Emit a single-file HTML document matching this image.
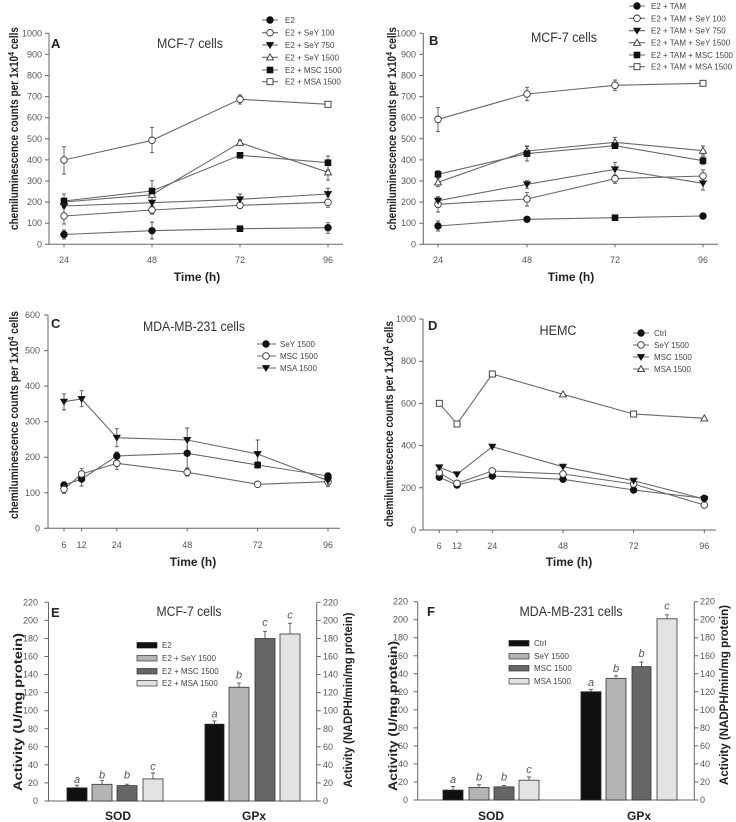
<!DOCTYPE html>
<html>
<head>
<meta charset="utf-8">
<style>
html,body{margin:0;padding:0;background:#fff;}
svg{display:block;}
text{font-family:"Liberation Sans",sans-serif;}
.tk{font-size:9px;fill:#555;}
.tkr{font-size:9px;fill:#555;text-anchor:end;}
.lg{font-size:8px;fill:#444;}
.ax{stroke:#666;stroke-width:1;fill:none;}
.ln{stroke:#6a6a6a;stroke-width:1.1;fill:none;}
.eb{stroke:#555;stroke-width:0.9;fill:none;}
.ttl{font-size:13.5px;fill:#333;text-anchor:middle;}
.pl{font-size:13px;font-weight:bold;fill:#222;}
.xt{font-size:12px;font-weight:bold;fill:#222;text-anchor:middle;}
.yl{font-size:11.5px;font-weight:bold;fill:#222;text-anchor:middle;}
.let{font-size:11px;font-style:italic;fill:#555;text-anchor:middle;}
.bl{font-size:11px;fill:#555;text-anchor:middle;}
</style>
</head>
<body>
<svg width="736" height="822" viewBox="0 0 736 822" xmlns="http://www.w3.org/2000/svg">
<defs>
<circle id="fc" cx="0" cy="0" r="3.3" fill="#111" stroke="#111" stroke-width="0.8"/>
<circle id="oc" cx="0" cy="0" r="3.3" fill="#fff" stroke="#333" stroke-width="0.9"/>
<path id="td" d="M-3.6,-2.6 L3.6,-2.6 L0,3.4 Z" fill="#111" stroke="#111" stroke-width="0.6"/>
<path id="tu" d="M-3.5,2.6 L3.5,2.6 L0,-3.4 Z" fill="#fff" stroke="#333" stroke-width="0.9"/>
<rect id="fs" x="-3" y="-3" width="6" height="6" fill="#111" stroke="#111" stroke-width="0.6"/>
<rect id="os" x="-3" y="-3" width="6" height="6" fill="#fff" stroke="#333" stroke-width="0.9"/>
</defs>

<!-- ================= PANEL A ================= -->
<g>
<path class="ax" d="M49,33.3 V244.3 H343"/>
<path class="ax" d="M45,244.3H49M45,223.2H49M45,202.1H49M45,181H49M45,159.9H49M45,138.8H49M45,117.7H49M45,96.6H49M45,75.5H49M45,54.4H49M45,33.3H49"/>
<path class="ax" d="M64,244.3v3M152,244.3v3M240,244.3v3M328,244.3v3"/>
<text class="tkr" x="42" y="247.3">0</text>
<text class="tkr" x="42" y="226.2">100</text>
<text class="tkr" x="42" y="205.1">200</text>
<text class="tkr" x="42" y="184">300</text>
<text class="tkr" x="42" y="162.9">400</text>
<text class="tkr" x="42" y="141.8">500</text>
<text class="tkr" x="42" y="120.7">600</text>
<text class="tkr" x="42" y="99.6">700</text>
<text class="tkr" x="42" y="78.5">800</text>
<text class="tkr" x="42" y="57.4">900</text>
<text class="tkr" x="42" y="36.3">1000</text>
<text class="tk" x="64" y="263" text-anchor="middle">24</text>
<text class="tk" x="152" y="263" text-anchor="middle">48</text>
<text class="tk" x="240" y="263" text-anchor="middle">72</text>
<text class="tk" x="328" y="263" text-anchor="middle">96</text>
<text class="xt" x="197" y="281">Time (h)</text>
<text class="yl" transform="translate(18,128.5) rotate(-90)" textLength="203" lengthAdjust="spacingAndGlyphs">chemiluminescence counts per 1x10<tspan font-size="8" dy="-4">4</tspan><tspan dy="4"> cells</tspan></text>
<text class="pl" x="51" y="48">A</text>
<text class="ttl" x="190" y="48" textLength="66" lengthAdjust="spacingAndGlyphs">MCF-7 cells</text>
<path class="eb" d="M64,230V239M62,230h4M62,239h4 M152,222V239M150,222h4M150,239h4 M240,226.5V231M238,226.5h4M238,231h4 M328,222.7V233.3M326,222.7h4M326,233.3h4"/>
<path class="eb" d="M64,208V224M62,208h4M62,224h4 M152,206V214M150,206h4M150,214h4 M328,196.7V207.3M326,196.7h4M326,207.3h4"/>
<path class="eb" d="M64,200V212M62,200h4 M152,199V206 M240,194V205M238,194h4M238,205h4 M328,188.3V199.3M326,188.3h4M326,199.3h4"/>
<path class="eb" d="M240,140V146M238,140h4 M328,164V180M326,164h4M326,180h4"/>
<path class="eb" d="M64,194V208M62,194h4M62,208h4 M152,180.7V201M150,180.7h4M150,201h4 M328,156V170M326,156h4M326,170h4"/>
<path class="eb" d="M64,146.7V174M62,146.7h4M62,174h4 M152,127.3V152.7M150,127.3h4M150,152.7h4 M240,95V104M238,95h4M238,104h4 M328,102V107M326,102h4M326,107h4"/>
<polyline class="ln" points="64,234.5 152,230.7 240,228.7 328,227.7"/>
<polyline class="ln" points="64,216 152,210 240,205.3 328,202.3"/>
<polyline class="ln" points="64,206 152,202.7 240,199.3 328,194"/>
<polyline class="ln" points="64,202 152,194.7 240,142.7 328,172.3"/>
<polyline class="ln" points="64,201 152,191 240,155.3 328,162.7"/>
<polyline class="ln" points="64,160 152,140.3 240,99.3 328,104.3"/>
<use href="#fc" x="64" y="234.5"/><use href="#fc" x="152" y="230.7"/><use href="#fs" x="240" y="228.7"/><use href="#fc" x="328" y="227.7"/>
<use href="#oc" x="64" y="216"/><use href="#oc" x="152" y="210"/><use href="#oc" x="240" y="205.3"/><use href="#oc" x="328" y="202.3"/>
<use href="#td" x="64" y="206"/><use href="#td" x="152" y="202.7"/><use href="#td" x="240" y="199.3"/><use href="#td" x="328" y="194"/>
<use href="#tu" x="64" y="202"/><use href="#tu" x="152" y="194.7"/><use href="#tu" x="240" y="142.7"/><use href="#tu" x="328" y="172.3"/>
<use href="#fs" x="64" y="201"/><use href="#fs" x="152" y="191"/><use href="#fs" x="240" y="155.3"/><use href="#fs" x="328" y="162.7"/>
<use href="#oc" x="64" y="160"/><use href="#oc" x="152" y="140.3"/><use href="#oc" x="240" y="99.3"/><use href="#os" x="328" y="104.3"/>
<path class="ln" d="M262,20H278M262,32.7H278M262,45H278M262,57.3H278M262,70H278M262,81.7H278"/>
<use href="#fc" x="270" y="20"/><use href="#oc" x="270" y="32.7"/><use href="#td" x="270" y="45"/><use href="#tu" x="270" y="57.3"/><use href="#fs" x="270" y="70"/><use href="#os" x="270" y="81.7"/>
<text class="lg" x="285" y="23">E2</text>
<text class="lg" x="285" y="35.7">E2 + SeY 100</text>
<text class="lg" x="285" y="48">E2 + SeY 750</text>
<text class="lg" x="285" y="60.3">E2 + SeY 1500</text>
<text class="lg" x="285" y="73">E2 + MSC 1500</text>
<text class="lg" x="285" y="84.7">E2 + MSA 1500</text>
</g>

<!-- ================= PANEL B ================= -->
<g>
<path class="ax" d="M423.3,33.3 V244.3 H718"/>
<path class="ax" d="M419.3,244.3H423.3M419.3,223.2H423.3M419.3,202.1H423.3M419.3,181H423.3M419.3,159.9H423.3M419.3,138.8H423.3M419.3,117.7H423.3M419.3,96.6H423.3M419.3,75.5H423.3M419.3,54.4H423.3M419.3,33.3H423.3"/>
<path class="ax" d="M438,244.3v3M527,244.3v3M615,244.3v3M703,244.3v3"/>
<text class="tkr" x="416" y="247.3">0</text>
<text class="tkr" x="416" y="226.2">100</text>
<text class="tkr" x="416" y="205.1">200</text>
<text class="tkr" x="416" y="184">300</text>
<text class="tkr" x="416" y="162.9">400</text>
<text class="tkr" x="416" y="141.8">500</text>
<text class="tkr" x="416" y="120.7">600</text>
<text class="tkr" x="416" y="99.6">700</text>
<text class="tkr" x="416" y="78.5">800</text>
<text class="tkr" x="416" y="57.4">900</text>
<text class="tkr" x="416" y="36.3">1000</text>
<text class="tk" x="438" y="263" text-anchor="middle">24</text>
<text class="tk" x="527" y="263" text-anchor="middle">48</text>
<text class="tk" x="615" y="263" text-anchor="middle">72</text>
<text class="tk" x="703" y="263" text-anchor="middle">96</text>
<text class="xt" x="571" y="281">Time (h)</text>
<text class="yl" transform="translate(396,128.5) rotate(-90)" textLength="203" lengthAdjust="spacingAndGlyphs">chemiluminescence counts per 1x10<tspan font-size="8" dy="-4">4</tspan><tspan dy="4"> cells</tspan></text>
<text class="pl" x="429" y="45">B</text>
<text class="ttl" x="564" y="42" textLength="66" lengthAdjust="spacingAndGlyphs">MCF-7 cells</text>
<path class="eb" d="M438,221V231M436,221h4M436,231h4 M703,213.3V219M701,213.3h4M701,219h4"/>
<path class="eb" d="M438,197V212M436,197h4M436,212h4 M527,192.7V206M525,192.7h4M525,206h4 M615,175V183.3M613,175h4M613,183.3h4 M703,170V182.3M701,170h4M701,182.3h4"/>
<path class="eb" d="M438,196.7V205M436,196.7h4M436,205h4 M527,180.7V188.3M525,180.7h4M525,188.3h4 M615,162.3V177M613,162.3h4 M703,177.3V190M701,177.3h4M701,190h4"/>
<path class="eb" d="M438,178.3V186.7M436,178.3h4M436,186.7h4 M527,146.7V156M525,146.7h4 M615,137.3V146.7M613,137.3h4M613,146.7h4 M703,146V155M701,146h4M701,155h4"/>
<path class="eb" d="M438,170.7V178.3M436,170.7h4M436,178.3h4 M527,146V161M525,146h4M525,161h4 M703,156.7V164.7M701,156.7h4M701,164.7h4"/>
<path class="eb" d="M438,107.7V131.7M436,107.7h4M436,131.7h4 M527,87.3V100.7M525,87.3h4M525,100.7h4 M615,80V90.7M613,80h4M613,90.7h4"/>
<polyline class="ln" points="438,226 527,219.3 615,217.7 703,216"/>
<polyline class="ln" points="438,204.3 527,199 615,178.7 703,176"/>
<polyline class="ln" points="438,200.7 527,184.3 615,169.3 703,183.3"/>
<polyline class="ln" points="438,182.3 527,151 615,142.3 703,150.7"/>
<polyline class="ln" points="438,174.3 527,153.6 615,145.7 703,160.7"/>
<polyline class="ln" points="438,119.3 527,94 615,85.3 703,83.3"/>
<use href="#fc" x="438" y="226"/><use href="#fc" x="527" y="219.3"/><use href="#fs" x="615" y="217.7"/><use href="#fc" x="703" y="216"/>
<use href="#oc" x="438" y="204.3"/><use href="#oc" x="527" y="199"/><use href="#oc" x="615" y="178.7"/><use href="#oc" x="703" y="176"/>
<use href="#td" x="438" y="200.7"/><use href="#td" x="527" y="184.3"/><use href="#td" x="615" y="169.3"/><use href="#td" x="703" y="183.3"/>
<use href="#tu" x="438" y="182.3"/><use href="#tu" x="527" y="151"/><use href="#tu" x="615" y="142.3"/><use href="#tu" x="703" y="150.7"/>
<use href="#fs" x="438" y="174.3"/><use href="#fs" x="527" y="153.6"/><use href="#fs" x="615" y="145.7"/><use href="#fs" x="703" y="160.7"/>
<use href="#oc" x="438" y="119.3"/><use href="#oc" x="527" y="94"/><use href="#oc" x="615" y="85.3"/><use href="#os" x="703" y="83.3"/>
<path class="ln" d="M629,6H645M629,18.3H645M629,30.7H645M629,42.7H645M629,55H645M629,66.7H645"/>
<use href="#fc" x="637" y="6"/><use href="#oc" x="637" y="18.3"/><use href="#td" x="637" y="30.7"/><use href="#tu" x="637" y="42.7"/><use href="#fs" x="637" y="55"/><use href="#os" x="637" y="66.7"/>
<text class="lg" x="651" y="9">E2 + TAM</text>
<text class="lg" x="651" y="21.3">E2 + TAM + SeY 100</text>
<text class="lg" x="651" y="33.7">E2 + TAM + SeY 750</text>
<text class="lg" x="651" y="45.7">E2 + TAM + SeY 1500</text>
<text class="lg" x="651" y="58">E2 + TAM + MSC 1500</text>
<text class="lg" x="651" y="69.7">E2 + TAM + MSA 1500</text>
</g>

<!-- ================= PANEL C ================= -->
<g>
<path class="ax" d="M48,315 V528.3 H340"/>
<path class="ax" d="M44,528.3H48M44,492.8H48M44,457.2H48M44,421.7H48M44,386.1H48M44,350.6H48M44,315H48"/>
<path class="ax" d="M64,528.3v3M81.6,528.3v3M116.8,528.3v3M187.2,528.3v3M257.6,528.3v3M328,528.3v3"/>
<text class="tkr" x="40" y="531.3">0</text>
<text class="tkr" x="40" y="495.8">100</text>
<text class="tkr" x="40" y="460.2">200</text>
<text class="tkr" x="40" y="424.7">300</text>
<text class="tkr" x="40" y="389.1">400</text>
<text class="tkr" x="40" y="353.6">500</text>
<text class="tkr" x="40" y="318">600</text>
<text class="tk" x="64" y="548" text-anchor="middle">6</text>
<text class="tk" x="81.6" y="548" text-anchor="middle" font-size="8">12</text>
<text class="tk" x="116.8" y="548" text-anchor="middle">24</text>
<text class="tk" x="187.2" y="548" text-anchor="middle">48</text>
<text class="tk" x="257.6" y="548" text-anchor="middle">72</text>
<text class="tk" x="328" y="548" text-anchor="middle">96</text>
<text class="xt" x="193" y="566">Time (h)</text>
<text class="yl" transform="translate(18,415) rotate(-90)" textLength="208" lengthAdjust="spacingAndGlyphs">chemiluminescence counts per 1x10<tspan font-size="8" dy="-4">4</tspan><tspan dy="4"> cells</tspan></text>
<text class="pl" x="51" y="328">C</text>
<text class="ttl" x="194" y="331" textLength="102" lengthAdjust="spacingAndGlyphs">MDA-MB-231 cells</text>
<path class="eb" d="M64,482V488M62,482h4 M81.6,472V486M79.6,472h4M79.6,486h4 M116.8,452V460M114.8,452h4 M187.2,445V468M185.2,468h4 M257.6,462V468M255.6,462h4M255.6,468h4 M328,473V479M326,473h4"/>
<path class="eb" d="M64,485V493.3M62,493.3h4 M81.6,468.3V479M79.6,468.3h4 M116.8,458.3V469.3M114.8,458.3h4M114.8,469.3h4 M187.2,468.3V476M185.2,468.3h4M185.2,476h4 M328,478.3V486.7M326,486.7h4"/>
<path class="eb" d="M64,394V410M62,394h4M62,410h4 M81.6,390.7V406.7M79.6,390.7h4M79.6,406.7h4 M116.8,428.7V446.7M114.8,428.7h4M114.8,446.7h4 M187.2,428V451.7M185.2,428h4M185.2,451.7h4 M257.6,440V468.3M255.6,440h4 M328,476.7V485M326,476.7h4M326,485h4"/>
<polyline class="ln" points="64,485 81.6,479 116.8,456 187.2,453.3 257.6,465 328,476"/>
<polyline class="ln" points="64,489.3 81.6,474 116.8,463.3 187.2,472.3 257.6,484.3 328,481.7"/>
<polyline class="ln" points="64,401.7 81.6,399 116.8,437.7 187.2,440 257.6,454 328,480.7"/>
<use href="#fc" x="64" y="485"/><use href="#fc" x="81.6" y="479"/><use href="#fc" x="116.8" y="456"/><use href="#fc" x="187.2" y="453.3"/><use href="#fs" x="257.6" y="465"/><use href="#fc" x="328" y="476"/>
<use href="#oc" x="64" y="489.3"/><use href="#oc" x="81.6" y="474"/><use href="#oc" x="116.8" y="463.3"/><use href="#oc" x="187.2" y="472.3"/><use href="#oc" x="257.6" y="484.3"/><use href="#oc" x="328" y="481.7"/>
<use href="#td" x="64" y="401.7"/><use href="#td" x="81.6" y="399"/><use href="#td" x="116.8" y="437.7"/><use href="#td" x="187.2" y="440"/><use href="#td" x="257.6" y="454"/><use href="#td" x="328" y="480.7"/>
<path class="ln" d="M257,344H276M257,356H276M257,368H276"/>
<use href="#fc" x="266" y="344"/><use href="#oc" x="266" y="356"/><use href="#td" x="266" y="368"/>
<text class="lg" x="280" y="347">SeY 1500</text>
<text class="lg" x="280" y="359">MSC 1500</text>
<text class="lg" x="280" y="371">MSA 1500</text>
</g>

<!-- ================= PANEL D ================= -->
<g>
<path class="ax" d="M423,319 V530 H716"/>
<path class="ax" d="M419,530H423M419,487.8H423M419,445.6H423M419,403.4H423M419,361.2H423M419,319H423"/>
<path class="ax" d="M439.3,530v3M457,530v3M492.3,530v3M563,530v3M633.6,530v3M704.3,530v3"/>
<text class="tkr" x="416" y="533">0</text>
<text class="tkr" x="416" y="490.8">200</text>
<text class="tkr" x="416" y="448.6">400</text>
<text class="tkr" x="416" y="406.4">600</text>
<text class="tkr" x="416" y="364.2">800</text>
<text class="tkr" x="416" y="322">1000</text>
<text class="tk" x="439.3" y="549" text-anchor="middle">6</text>
<text class="tk" x="457" y="549" text-anchor="middle" font-size="8">12</text>
<text class="tk" x="492.3" y="549" text-anchor="middle">24</text>
<text class="tk" x="563" y="549" text-anchor="middle">48</text>
<text class="tk" x="633.6" y="549" text-anchor="middle">72</text>
<text class="tk" x="704.3" y="549" text-anchor="middle">96</text>
<text class="xt" x="569" y="566">Time (h)</text>
<text class="yl" transform="translate(393,424) rotate(-90)" textLength="206" lengthAdjust="spacingAndGlyphs">chemiluminescence counts per 1x10<tspan font-size="8" dy="-4">4</tspan><tspan dy="4"> cells</tspan></text>
<text class="pl" x="428" y="330">D</text>
<text class="ttl" x="558" y="335" textLength="37" lengthAdjust="spacingAndGlyphs">HEMC</text>
<polyline class="ln" points="439.3,477.3 457,485 492.3,476 563,479.3 633.6,490 704.3,498.3"/>
<polyline class="ln" points="439.3,472.7 457,483.3 492.3,471 563,474 633.6,484 704.3,505"/>
<polyline class="ln" points="439.3,467.3 457,474.3 492.3,446.7 563,466.7 633.6,480.7 704.3,499"/>
<polyline class="ln" points="439.3,403.3 457,424 492.3,374 563,394.3 633.6,414 704.3,418.3"/>
<use href="#fc" x="439.3" y="477.3"/><use href="#fc" x="457" y="485"/><use href="#fc" x="492.3" y="476"/><use href="#fc" x="563" y="479.3"/><use href="#fc" x="633.6" y="490"/><use href="#fc" x="704.3" y="498.3"/>
<use href="#oc" x="439.3" y="472.7"/><use href="#oc" x="457" y="483.3"/><use href="#oc" x="492.3" y="471"/><use href="#oc" x="563" y="474"/><use href="#oc" x="633.6" y="484"/><use href="#oc" x="704.3" y="505"/>
<use href="#td" x="439.3" y="467.3"/><use href="#td" x="457" y="474.3"/><use href="#td" x="492.3" y="446.7"/><use href="#td" x="563" y="466.7"/><use href="#td" x="633.6" y="480.7"/><use href="#td" x="704.3" y="499"/>
<use href="#os" x="439.3" y="403.3"/><use href="#os" x="457" y="424"/><use href="#os" x="492.3" y="374"/><use href="#tu" x="563" y="394.3"/><use href="#os" x="633.6" y="414"/><use href="#tu" x="704.3" y="418.3"/>
<path class="ln" d="M633,333H649M633,345H649M633,357H649M633,369H649"/>
<use href="#fc" x="641" y="333"/><use href="#oc" x="641" y="345"/><use href="#td" x="641" y="357"/><use href="#tu" x="641" y="369"/>
<text class="lg" x="654" y="336">Ctrl</text>
<text class="lg" x="654" y="348">SeY 1500</text>
<text class="lg" x="654" y="360">MSC 1500</text>
<text class="lg" x="654" y="372">MSA 1500</text>
</g>

<!-- ================= PANEL E ================= -->
<g>
<path class="ax" d="M48.5,602.3 V801 H316.7 V602.3"/>
<path class="ax" d="M44.5,801H48.5M44.5,782.9H48.5M44.5,764.9H48.5M44.5,746.8H48.5M44.5,728.8H48.5M44.5,710.7H48.5M44.5,692.6H48.5M44.5,674.6H48.5M44.5,656.5H48.5M44.5,638.5H48.5M44.5,620.4H48.5M44.5,602.3H48.5"/>
<path class="ax" d="M316.7,801h4M316.7,782.9h4M316.7,764.9h4M316.7,746.8h4M316.7,728.8h4M316.7,710.7h4M316.7,692.6h4M316.7,674.6h4M316.7,656.5h4M316.7,638.5h4M316.7,620.4h4M316.7,602.3h4"/>
<text class="tkr" x="38" y="804">0</text>
<text class="tkr" x="38" y="785.9">20</text>
<text class="tkr" x="38" y="767.9">40</text>
<text class="tkr" x="38" y="749.8">60</text>
<text class="tkr" x="38" y="731.8">80</text>
<text class="tkr" x="38" y="713.7">100</text>
<text class="tkr" x="38" y="695.6">120</text>
<text class="tkr" x="38" y="677.6">140</text>
<text class="tkr" x="38" y="659.5">160</text>
<text class="tkr" x="38" y="641.5">180</text>
<text class="tkr" x="38" y="623.4">200</text>
<text class="tkr" x="38" y="605.3">220</text>
<text class="tk" x="323" y="804">0</text>
<text class="tk" x="323" y="785.9">20</text>
<text class="tk" x="323" y="767.9">40</text>
<text class="tk" x="323" y="749.8">60</text>
<text class="tk" x="323" y="731.8">80</text>
<text class="tk" x="323" y="713.7">100</text>
<text class="tk" x="323" y="695.6">120</text>
<text class="tk" x="323" y="677.6">140</text>
<text class="tk" x="323" y="659.5">160</text>
<text class="tk" x="323" y="641.5">180</text>
<text class="tk" x="323" y="623.4">200</text>
<text class="tk" x="323" y="605.3">220</text>
<text class="yl" transform="translate(22,712) rotate(-90)" font-size="12" textLength="158" lengthAdjust="spacingAndGlyphs">Activity (U/mg protein)</text>
<text class="yl" transform="translate(352,700) rotate(-90)" font-size="12" textLength="175" lengthAdjust="spacingAndGlyphs">Activity (NADPH/min/mg protein)</text>
<text class="pl" x="51" y="617">E</text>
<text class="ttl" x="189" y="616" textLength="65" lengthAdjust="spacingAndGlyphs">MCF-7 cells</text>
<path class="eb" d="M77,787.9V785.2M75,785.2h4 M102,784.3V780.7M100,780.7h4 M127,785.6V784.2M125,784.2h4 M153,778.9V773M151,773h4"/>
<path class="eb" d="M214.5,724.2V721M212.5,721h4 M239,687.2V683.1M237,683.1h4 M265,638.5V631.3M263,631.3h4 M290,634V623.2M288,623.2h4"/>
<rect x="67" y="787.9" width="20" height="13.1" fill="#111" stroke="#222" stroke-width="0.8"/>
<rect x="92" y="784.3" width="20" height="16.7" fill="#b4b4b4" stroke="#333" stroke-width="0.8"/>
<rect x="117" y="785.6" width="20" height="15.4" fill="#666" stroke="#333" stroke-width="0.8"/>
<rect x="143" y="778.9" width="20" height="22.1" fill="#e3e3e3" stroke="#333" stroke-width="0.8"/>
<rect x="205" y="724.2" width="19" height="76.8" fill="#111" stroke="#222" stroke-width="0.8"/>
<rect x="229" y="687.2" width="20" height="113.8" fill="#b4b4b4" stroke="#333" stroke-width="0.8"/>
<rect x="255" y="638.5" width="20" height="162.5" fill="#666" stroke="#333" stroke-width="0.8"/>
<rect x="280" y="634" width="20" height="167" fill="#e3e3e3" stroke="#333" stroke-width="0.8"/>
<text class="let" x="77" y="783">a</text>
<text class="let" x="102" y="778.5">b</text>
<text class="let" x="127" y="778.5">b</text>
<text class="let" x="153" y="770">c</text>
<text class="let" x="214.5" y="717.5">a</text>
<text class="let" x="239" y="678.5">b</text>
<text class="let" x="265" y="626">c</text>
<text class="let" x="290" y="618.5">c</text>
<text class="xt" x="118" y="820">SOD</text>
<text class="xt" x="254" y="820">GPx</text>
<rect x="137" y="642.5" width="20" height="5.5" fill="#111" stroke="#222" stroke-width="0.7"/>
<rect x="137" y="655.5" width="20" height="5.5" fill="#b4b4b4" stroke="#333" stroke-width="0.7"/>
<rect x="137" y="668.5" width="20" height="5.5" fill="#666" stroke="#333" stroke-width="0.7"/>
<rect x="137" y="680.5" width="20" height="5.5" fill="#e3e3e3" stroke="#333" stroke-width="0.7"/>
<text class="lg" x="162" y="648" font-size="8.5">E2</text>
<text class="lg" x="162" y="661" font-size="8.5">E2 + SeY 1500</text>
<text class="lg" x="162" y="674" font-size="8.5">E2 + MSC 1500</text>
<text class="lg" x="162" y="686" font-size="8.5">E2 + MSA 1500</text>
</g>

<!-- ================= PANEL F ================= -->
<g>
<path class="ax" d="M417.7,601.7 V800 H694.3 V601.7"/>
<path class="ax" d="M413.7,800H417.7M413.7,782H417.7M413.7,763.9H417.7M413.7,745.9H417.7M413.7,727.9H417.7M413.7,709.9H417.7M413.7,691.8H417.7M413.7,673.8H417.7M413.7,655.8H417.7M413.7,637.7H417.7M413.7,619.7H417.7M413.7,601.7H417.7"/>
<path class="ax" d="M694.3,800h4M694.3,782h4M694.3,763.9h4M694.3,745.9h4M694.3,727.9h4M694.3,709.9h4M694.3,691.8h4M694.3,673.8h4M694.3,655.8h4M694.3,637.7h4M694.3,619.7h4M694.3,601.7h4"/>
<text class="tkr" x="408" y="803">0</text>
<text class="tkr" x="408" y="785">20</text>
<text class="tkr" x="408" y="766.9">40</text>
<text class="tkr" x="408" y="748.9">60</text>
<text class="tkr" x="408" y="730.9">80</text>
<text class="tkr" x="408" y="712.9">100</text>
<text class="tkr" x="408" y="694.8">120</text>
<text class="tkr" x="408" y="676.8">140</text>
<text class="tkr" x="408" y="658.8">160</text>
<text class="tkr" x="408" y="640.7">180</text>
<text class="tkr" x="408" y="622.7">200</text>
<text class="tkr" x="408" y="604.7">220</text>
<text class="tk" x="700" y="803">0</text>
<text class="tk" x="700" y="785">20</text>
<text class="tk" x="700" y="766.9">40</text>
<text class="tk" x="700" y="748.9">60</text>
<text class="tk" x="700" y="730.9">80</text>
<text class="tk" x="700" y="712.9">100</text>
<text class="tk" x="700" y="694.8">120</text>
<text class="tk" x="700" y="676.8">140</text>
<text class="tk" x="700" y="658.8">160</text>
<text class="tk" x="700" y="640.7">180</text>
<text class="tk" x="700" y="622.7">200</text>
<text class="tk" x="700" y="604.7">220</text>
<text class="yl" transform="translate(397,716) rotate(-90)" font-size="12" textLength="150" lengthAdjust="spacingAndGlyphs">Activity (U/mg protein)</text>
<text class="yl" transform="translate(728,695) rotate(-90)" font-size="12" textLength="180" lengthAdjust="spacingAndGlyphs">Activity (NADPH/min/mg protein)</text>
<text class="pl" x="427" y="616">F</text>
<text class="ttl" x="571" y="616" textLength="103" lengthAdjust="spacingAndGlyphs">MDA-MB-231 cells</text>
<path class="eb" d="M453,790.1V786.5M451,786.5h4 M479,787.4V784.7M477,784.7h4 M504,786.9V785.5M502,785.5h4 M529,780.2V777M527,777h4"/>
<path class="eb" d="M591,691.8V689.3M589,689.3h4 M616,678.3V675.8M614,675.8h4 M641.5,666.6V662M639.5,662h4 M667,618.8V614.8M665,614.8h4"/>
<rect x="443" y="790.1" width="20" height="9.9" fill="#111" stroke="#222" stroke-width="0.8"/>
<rect x="469" y="787.4" width="20" height="12.6" fill="#b4b4b4" stroke="#333" stroke-width="0.8"/>
<rect x="494" y="786.9" width="20" height="13.1" fill="#666" stroke="#333" stroke-width="0.8"/>
<rect x="519" y="780.2" width="20" height="19.8" fill="#e3e3e3" stroke="#333" stroke-width="0.8"/>
<rect x="581" y="691.8" width="20" height="108.2" fill="#111" stroke="#222" stroke-width="0.8"/>
<rect x="606" y="678.3" width="20" height="121.7" fill="#b4b4b4" stroke="#333" stroke-width="0.8"/>
<rect x="632" y="666.6" width="19" height="133.4" fill="#666" stroke="#333" stroke-width="0.8"/>
<rect x="657" y="618.8" width="20" height="181.2" fill="#e3e3e3" stroke="#333" stroke-width="0.8"/>
<text class="let" x="453" y="783">a</text>
<text class="let" x="479" y="780.5">b</text>
<text class="let" x="504" y="780.5">b</text>
<text class="let" x="529" y="773">c</text>
<text class="let" x="591" y="686">a</text>
<text class="let" x="616" y="672">b</text>
<text class="let" x="641.5" y="657">b</text>
<text class="let" x="667" y="609.5">c</text>
<text class="xt" x="491" y="820">SOD</text>
<text class="xt" x="639" y="820">GPx</text>
<rect x="509" y="640.5" width="20" height="5.5" fill="#111" stroke="#222" stroke-width="0.7"/>
<rect x="509" y="653.5" width="20" height="5.5" fill="#b4b4b4" stroke="#333" stroke-width="0.7"/>
<rect x="509" y="665.5" width="20" height="5.5" fill="#666" stroke="#333" stroke-width="0.7"/>
<rect x="509" y="678.5" width="20" height="5.5" fill="#e3e3e3" stroke="#333" stroke-width="0.7"/>
<text class="lg" x="534" y="646" font-size="8.5">Ctrl</text>
<text class="lg" x="534" y="659" font-size="8.5">SeY 1500</text>
<text class="lg" x="534" y="671" font-size="8.5">MSC 1500</text>
<text class="lg" x="534" y="684" font-size="8.5">MSA 1500</text>
</g>
</svg>
</body>
</html>
